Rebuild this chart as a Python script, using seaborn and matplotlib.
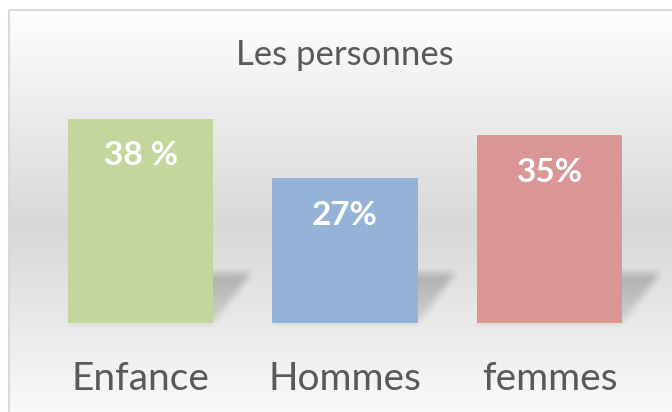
import numpy as np
import matplotlib
matplotlib.use('Agg')
import matplotlib.pyplot as plt
import seaborn as sns
from matplotlib.path import Path
from matplotlib.patches import Rectangle

categories = ['Enfance', 'Hommes', 'femmes']
values = [38, 27, 35]
labels = ['38 %', '27%', '35%']
colors = ['#c3d69b', '#95b3d7', '#d99694']

W, H = 672, 412


def box_blur(a, r):
    # simple separable box blur
    for axis in (0, 1):
        pad = [(0, 0), (0, 0)]
        pad[axis] = (r + 1, r)
        c = np.cumsum(np.pad(a, pad, mode='edge'), axis=axis)
        if axis == 0:
            a = (c[2 * r + 1:] - c[:-2 * r - 1]) / (2 * r + 1)
        else:
            a = (c[:, 2 * r + 1:] - c[:, :-2 * r - 1]) / (2 * r + 1)
    return a


sns.set_theme(style='white')
plt.rcParams['font.family'] = ['Lato', 'DejaVu Sans']

fig = plt.figure(figsize=(W / 100, H / 100), dpi=100)
fig.patch.set_facecolor('white')

# background panel with grey gradient
bg = fig.add_axes([0, 0, 1, 1], zorder=0)
bg.axis('off')
ys = np.arange(10, H)
g = np.interp(ys, [10, 227, 430], [254, 216, 253]) / 255
grad = np.repeat(g[:, None], 3, axis=1)[:, None, :]
bg.imshow(grad, extent=(8, W + 5, H, 10), aspect='auto', interpolation='bilinear', zorder=0)
bg.add_patch(Rectangle((8.5, 9.5), W, H, fill=False, edgecolor='#d9d9d9', lw=1.5, zorder=3))

# bars
ax = fig.add_axes([38.25 / W, (H - 323) / H, 613.5 / W, 50 * 5.37 / H], zorder=2)
sns.barplot(x=categories, y=values, hue=categories, palette=colors, width=0.71,
            saturation=1, legend=False, linewidth=0, ax=ax)
ax.set_xlim(-0.5, 2.5)
ax.set_ylim(0, 50)
ax.patch.set_alpha(0)
sns.despine(ax=ax, left=True, bottom=True)
ax.set_yticks([])
ax.set_xlabel('')
ax.set_ylabel('')
ax.tick_params(axis='x', length=0, pad=27, labelsize=28, labelcolor='#595959')

for i, (v, lab) in enumerate(zip(values, labels)):
    ax.annotate(lab, (i, v), xytext=(0, -37), textcoords='offset pixels',
                ha='center', va='center', fontsize=24, fontweight='bold', color='white')

# perspective shadows behind the bars
yy, xx = np.mgrid[0:H, 0:W]
pts = np.column_stack([xx.ravel() + 0.5, yy.ravel() + 0.5])
mask = np.zeros((H, W))
for p in ax.patches:
    (l, b), (r, t) = ax.transData.transform([(p.get_x(), 0), (p.get_x() + p.get_width(), p.get_height())])
    b = H - b
    sh = 50
    dx = 38
    poly = Path([(l, b), (r, b), (r + dx, b - sh), (l + dx, b - sh)])
    m = poly.contains_points(pts).reshape(H, W)
    fade = np.clip((yy - (b - sh)) / sh, 0, 1)
    mask = np.maximum(mask, m * (1 - 0.55 * fade))
mask = box_blur(mask, 5)
shadow = np.zeros((H, W, 4))
shadow[..., 3] = mask * 0.22
bg.imshow(shadow, extent=(0, W, H, 0), aspect='auto', zorder=1)
bg.set_xlim(0, W)
bg.set_ylim(H, 0)

fig.text(345 / W, 1 - 55 / H, 'Les personnes', ha='center', va='center',
         fontsize=25, color='#595959')

fig.savefig('out.png', dpi=100)
